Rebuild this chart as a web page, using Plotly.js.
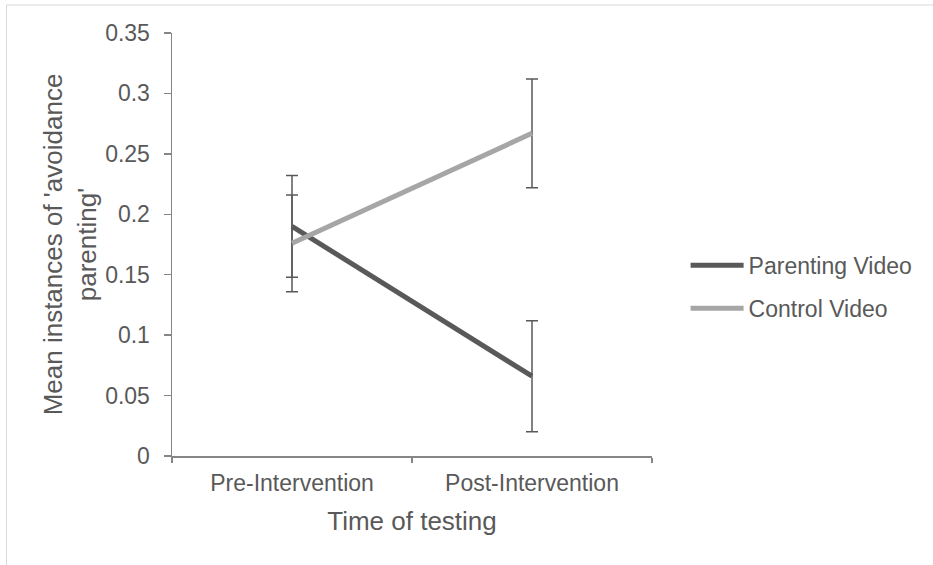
<!DOCTYPE html>
<html>
<head>
<meta charset="utf-8">
<script src="https://cdn.plot.ly/plotly-3.0.1.min.js"></script>
<style>
html,body{margin:0;padding:0;background:#fff;}
#chart{width:933px;height:565px;}
</style>
</head>
<body>
<div id="chart"></div>
<script>
var categories = ["Pre-Intervention", "Post-Intervention"];
var parentingMean = [0.190, 0.066];
var parentingErr = [0.042, 0.046];
var controlMean = [0.176, 0.267];
var controlErr = [0.040, 0.045];
var yTickVals = [0, 0.05, 0.1, 0.15, 0.2, 0.25, 0.3, 0.35];
var yTickText = ["0", "0.05", "0.1", "0.15", "0.2", "0.25", "0.3", "0.35"];

var font = "Liberation Sans, Arial, sans-serif";
var textColor = "#595959";
var axisColor = "#868686";

var traces = [
  {
    x: categories, y: parentingMean, name: "Parenting Video",
    type: "scatter", mode: "lines", legendgroup: "a",
    line: {color: "#595959", width: 5},
    error_y: {type: "data", array: parentingErr, visible: true, color: "#595959", thickness: 1.5, width: 6}
  },
  {
    x: categories, y: controlMean, name: "Control Video",
    type: "scatter", mode: "lines", legendgroup: "b",
    line: {color: "#A6A6A6", width: 5},
    error_y: {type: "data", array: controlErr, visible: true, color: "#595959", thickness: 1.5, width: 6}
  }
];

var layout = {
  width: 933, height: 565,
  margin: {l: 172, r: 281, t: 33, b: 109},
  paper_bgcolor: "#fff", plot_bgcolor: "#fff",
  font: {family: font, color: textColor, size: 23},
  showlegend: true,
  legend: {
    x: 1.07, y: 0.40, xanchor: "left", yanchor: "middle",
    font: {family: font, size: 23, color: textColor},
    itemwidth: 53,
    tracegroupgap: 10, bgcolor: "rgba(0,0,0,0)"
  },
  xaxis: {
    type: "category", range: [-0.5, 1.5],
    showline: true, linecolor: axisColor, linewidth: 1.5,
    ticks: "outside", tickson: "boundaries", ticklen: 5, tickcolor: axisColor, tickwidth: 1.5,
    showgrid: false, zeroline: false, ticklabelstandoff: 6,
    tickfont: {family: font, size: 23, color: textColor},
    title: {text: "Time of testing", font: {family: font, size: 26, color: textColor}, standoff: 16}
  },
  yaxis: {
    range: [0, 0.35], tickvals: yTickVals, ticktext: yTickText,
    showline: true, linecolor: axisColor, linewidth: 1.5,
    ticks: "outside", ticklen: 7, tickcolor: axisColor, tickwidth: 1.5,
    showgrid: false, zeroline: false, ticklabelstandoff: 9,
    tickfont: {family: font, size: 23, color: textColor},
    title: {text: "Mean instances of 'avoidance<br>parenting'", font: {family: font, size: 26, color: textColor}, standoff: 1}
  },
  shapes: [
    {type: "rect", xref: "paper", yref: "paper",
     x0: (6.5 - 172) / 480, x1: (940 - 172) / 480,
     y0: (456 - 570) / 423, y1: (456 - 5) / 423,
     line: {color: "#D9D9D9", width: 1}, fillcolor: "rgba(0,0,0,0)", layer: "below"}
  ]
};

Plotly.newPlot("chart", traces, layout, {displayModeBar: false, staticPlot: true});
</script>
</body>
</html>
